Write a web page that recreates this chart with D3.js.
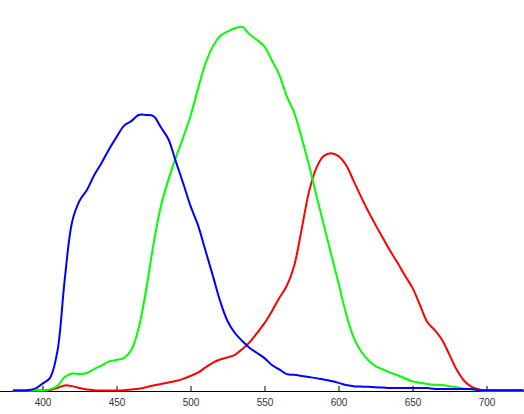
<!DOCTYPE html>
<html>
<head>
<meta charset="utf-8">
<script src="https://cdn.jsdelivr.net/npm/d3@7"></script>
<style>
  html, body { margin: 0; padding: 0; background: #fff; }
  svg { display: block; }
</style>
</head>
<body>
<svg id="chart" width="524" height="414"></svg>
<script>
// Wavelengths (nm), 380..725 every 5 nm
const wavelengths = d3.range(380, 726, 5);

const redValues = [
  0, 0, 0, 0, 0, 0.1, 0.7, 1.4, 1.2, 0.7, 0.3, 0.1, 0, 0, 0, 0.1, 0.3, 0.5, 0.9, 1.4,
  1.8, 2.2, 2.6, 3.2, 4.0, 4.9, 6.3, 7.6, 8.5, 9.1, 9.8, 11.4, 13.3, 15.8, 18.5, 21.8, 25.4, 28.7, 34.2, 44.1,
  54.5, 61.1, 64.4, 65.2, 64.4, 62.0, 57.8, 53.4, 49.3, 45.5, 41.9, 38.3, 35.0, 31.5, 28.2, 23.5, 18.8, 16.6, 13.9, 9.8,
  5.6, 2.6, 1.0, 0.3, 0, 0, 0, 0, 0, 0
];

const greenValues = [
  0, 0, 0, 0, 0, 0.3, 1.2, 3.7, 4.7, 4.5, 4.8, 5.9, 6.9, 8.0, 8.4, 8.9, 11.1, 17.2, 27.6, 40.2,
  50.7, 57.8, 63.9, 69.4, 75.4, 82.8, 89.7, 94.4, 97.4, 98.6, 99.5, 99.9, 97.8, 96.3, 94.5, 90.7, 86.7, 80.9, 76.4, 69.6,
  62.0, 53.7, 45.6, 37.5, 29.5, 21.3, 14.8, 10.9, 8.4, 6.7, 5.8, 4.9, 4.2, 3.3, 2.5, 2.1, 1.8, 1.6, 1.5, 1.2,
  0.9, 0.5, 0.3, 0.1, 0, 0, 0, 0, 0, 0
];

const blueValues = [
  0, 0, 0.1, 0.5, 1.9, 3.4, 10.6, 30.4, 46.3, 52.1, 55.1, 59.2, 62.6, 66.3, 69.6, 72.7, 74.0, 75.7, 75.7, 75.4,
  72.3, 69.1, 63.0, 57.0, 50.7, 45.5, 38.6, 31.7, 24.6, 19.1, 15.8, 13.6, 11.7, 10.3, 8.9, 7.0, 5.8, 4.5, 4.3, 4.0,
  3.7, 3.4, 3.0, 2.6, 2.1, 1.5, 1.2, 1.1, 1.0, 0.9, 0.8, 0.7, 0.7, 0.7, 0.7, 0.7, 0.7, 0.4, 0.4, 0.4,
  0.4, 0.4, 0.4, 0.1, 0.1, 0.1, 0.1, 0.1, 0.1, 0.1
];

const tickValues = [400, 450, 500, 550, 600, 650, 700];

const seriesList = [
  { name: "red", color: "#ff0000", values: redValues },
  { name: "green", color: "#00ff00", values: greenValues },
  { name: "blue", color: "#0000ff", values: blueValues }
];

const W = 524, H = 414;
const svg = d3.select("#chart");

const x = d3.scaleLinear().domain([400, 700]).range([42.5, 486.5]);
const y = d3.scaleLinear().domain([0, 100]).range([390.5, 26.5]);

// axis baseline spanning full width
svg.append("line")
  .attr("x1", 0).attr("x2", W)
  .attr("y1", 391.5).attr("y2", 391.5)
  .attr("stroke", "#000").attr("stroke-width", 1);

const axis = d3.axisBottom(x)
  .tickValues(tickValues)
  .tickSizeInner(-5)
  .tickSizeOuter(0)
  .tickPadding(8)
  .tickFormat(d3.format("d"));

const gAxis = svg.append("g")
  .attr("transform", "translate(0,391)")
  .call(axis);
gAxis.select(".domain").remove();
gAxis.selectAll(".tick line").attr("stroke", "#000");
gAxis.selectAll(".tick text")
  .attr("fill", "#333")
  .style("font-family", "'Liberation Sans', Arial, sans-serif")
  .style("font-size", "10px");

const line = d3.line()
  .x((d, i) => x(wavelengths[i]))
  .y(d => y(d))
  .curve(d3.curveCatmullRom.alpha(0.5));

svg.selectAll("path.series")
  .data(seriesList)
  .enter()
  .append("path")
  .attr("class", "series")
  .attr("fill", "none")
  .attr("stroke", d => d.color)
  .attr("stroke-width", 2)
  .attr("stroke-linejoin", "round")
  .attr("d", d => line(d.values));
</script>
</body>
</html>
